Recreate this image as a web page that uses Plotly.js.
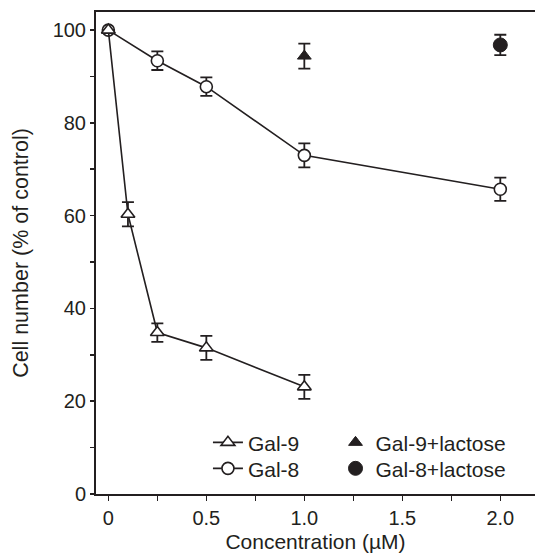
<!DOCTYPE html>
<html>
<head>
<meta charset="utf-8">
<script src="https://cdn.plot.ly/plotly-3.0.1.min.js"></script>
<style>html,body{margin:0;padding:0;background:#fff;}#chart{width:535px;height:557px;}</style>
</head>
<body>
<div id="chart"></div>
<script>
// Gal-9 (open triangles)
const conc9 = [0, 0.1, 0.25, 0.5, 1.0];
const gal9 = [100, 60.3, 34.8, 31.5, 23.1];
const gal9Err = [0, 2.6, 2.0, 2.6, 2.6];
// Gal-8 (open circles)
const conc8 = [0, 0.25, 0.5, 1.0, 2.0];
const gal8 = [100, 93.4, 87.8, 73.0, 65.7];
const gal8Err = [0, 2.0, 2.0, 2.6, 2.5];
// with lactose
const conc9Lac = [1.0];
const gal9Lac = [94.4];
const gal9LacErr = [2.7];
const conc8Lac = [2.0];
const gal8Lac = [96.8];
const gal8LacErr = [2.2];
// ticks
const xTickVals = [0, 0.25, 0.5, 0.75, 1.0, 1.25, 1.5, 1.75, 2.0];
const xTickText = ['0', '', '0.5', '', '1.0', '', '1.5', '', '2.0'];
const yTickVals = [0, 10, 20, 30, 40, 50, 60, 70, 80, 90, 100];
const yTickText = ['0', '', '20', '', '40', '', '60', '', '80', '', '100'];

const ink = '#231f20';
const FONT = 'Liberation Sans, Arial, Helvetica, sans-serif';

function errBar(arr) {
  return {type: 'data', array: arr, visible: true, color: ink, thickness: 1.8, width: 6};
}

const traces = [
  {
    x: conc8, y: gal8, name: 'Gal-8', mode: 'lines+markers', type: 'scatter',
    line: {color: ink, width: 1.6},
    marker: {symbol: 'circle', size: 12, color: '#ffffff', line: {color: ink, width: 1.6}},
    error_y: errBar(gal8Err), legend: 'legend2'
  },
  {
    x: conc9, y: gal9, name: 'Gal-9', mode: 'lines+markers', type: 'scatter',
    line: {color: ink, width: 1.6},
    marker: {symbol: 'triangle-up', size: 12, color: '#ffffff', line: {color: ink, width: 1.6}},
    error_y: errBar(gal9Err), legend: 'legend'
  },
  {
    x: conc9Lac, y: gal9Lac, name: 'Gal-9+lactose', mode: 'markers', type: 'scatter',
    marker: {symbol: 'triangle-up', size: 12, color: ink, line: {color: ink, width: 1}},
    error_y: errBar(gal9LacErr), legend: 'legend3'
  },
  {
    x: conc8Lac, y: gal8Lac, name: 'Gal-8+lactose', mode: 'markers', type: 'scatter',
    marker: {symbol: 'circle', size: 14, color: ink, line: {color: ink, width: 1}},
    error_y: errBar(gal8LacErr), legend: 'legend4'
  }
];

const legFont = {family: FONT, size: 21, color: ink};
function leg(x, y) {
  return {x: x, y: y, xanchor: 'left', yanchor: 'middle', bgcolor: 'rgba(0,0,0,0)',
          borderwidth: 0, font: legFont, orientation: 'v'};
}

const layout = {
  width: 535, height: 557,
  margin: {l: 96, r: 0, t: 12, b: 63},
  paper_bgcolor: '#ffffff', plot_bgcolor: '#ffffff',
  font: {family: FONT, size: 20, color: ink},
  showlegend: true,
  legend: leg(0.255, 0.1064),
  legend2: leg(0.255, 0.0525),
  legend3: leg(0.5456, 0.1064),
  legend4: leg(0.5456, 0.0525),
  xaxis: {
    range: [-0.063, 2.177],
    tickmode: 'array', tickvals: xTickVals, ticktext: xTickText,
    ticks: 'outside', ticklen: 5, tickwidth: 1.6, tickcolor: ink,
    showline: true, linecolor: ink, linewidth: 2, mirror: true,
    showgrid: false, zeroline: false,
    tickfont: {family: FONT, size: 20, color: ink},
    title: {text: 'Concentration (\u00b5M)', font: {family: FONT, size: 21, color: ink}, standoff: 6}
  },
  yaxis: {
    range: [0, 103.9],
    tickmode: 'array', tickvals: yTickVals, ticktext: yTickText,
    ticks: 'outside', ticklen: 4, tickwidth: 1.6, tickcolor: ink,
    showline: true, linecolor: ink, linewidth: 2, mirror: false,
    showgrid: false, zeroline: false,
    tickfont: {family: FONT, size: 20, color: ink},
    title: {text: 'Cell number (% of control)', font: {family: FONT, size: 21.5, color: ink}, standoff: 18}
  }
};

Plotly.newPlot('chart', traces, layout, {displayModeBar: false, staticPlot: true});
</script>
</body>
</html>
